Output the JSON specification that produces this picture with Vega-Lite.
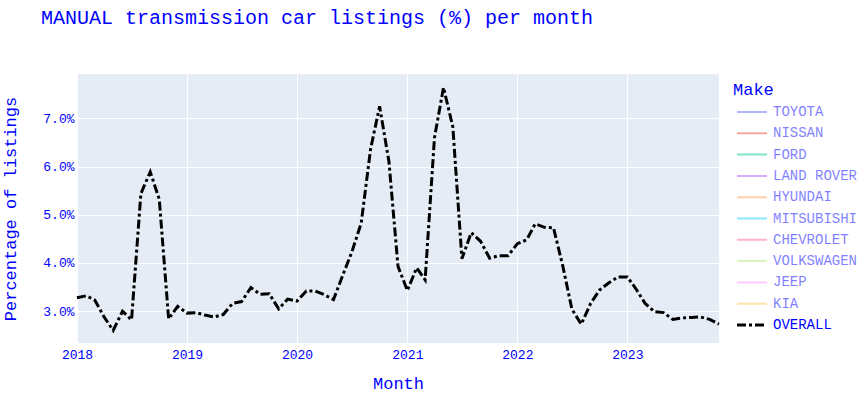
{
  "$schema": "https://vega.github.io/schema/vega-lite/v6.json",
  "width": 642,
  "height": 269,
  "autosize": {"type": "none"},
  "padding": {"left": 77, "top": 74, "right": 148, "bottom": 51},
  "background": "white",
  "config": {
    "font": "Liberation Mono",
    "view": {"fill": "#E5ECF6", "stroke": null},
    "axis": {"gridColor": "white", "gridWidth": 1, "domain": false, "ticks": false, "labelFont": "Liberation Mono", "labelColor": "blue", "labelFontSize": 13, "titleFont": "Liberation Mono", "titleColor": "blue", "titleFontSize": 17, "titleFontWeight": "normal"}
  },
  "title": {
    "text": "MANUAL transmission car listings (%) per month",
    "anchor": "start",
    "frame": "group",
    "dx": -36,
    "offset": 30,
    "baseline": "alphabetic",
    "font": "Liberation Mono",
    "fontSize": 20,
    "fontWeight": "normal",
    "color": "blue"
  },
  "data": {
    "values": [
      {"month": "2018-01-01T00:00:00", "make": "OVERALL", "pct": 3.28},
      {"month": "2018-02-01T00:00:00", "make": "OVERALL", "pct": 3.32},
      {"month": "2018-03-01T00:00:00", "make": "OVERALL", "pct": 3.23},
      {"month": "2018-04-01T00:00:00", "make": "OVERALL", "pct": 2.88},
      {"month": "2018-05-01T00:00:00", "make": "OVERALL", "pct": 2.6},
      {"month": "2018-06-01T00:00:00", "make": "OVERALL", "pct": 3.0},
      {"month": "2018-07-01T00:00:00", "make": "OVERALL", "pct": 2.82},
      {"month": "2018-08-01T00:00:00", "make": "OVERALL", "pct": 5.44},
      {"month": "2018-09-01T00:00:00", "make": "OVERALL", "pct": 5.89},
      {"month": "2018-10-01T00:00:00", "make": "OVERALL", "pct": 5.32},
      {"month": "2018-11-01T00:00:00", "make": "OVERALL", "pct": 2.84},
      {"month": "2018-12-01T00:00:00", "make": "OVERALL", "pct": 3.1},
      {"month": "2019-01-01T00:00:00", "make": "OVERALL", "pct": 2.96},
      {"month": "2019-02-01T00:00:00", "make": "OVERALL", "pct": 2.97},
      {"month": "2019-03-01T00:00:00", "make": "OVERALL", "pct": 2.92},
      {"month": "2019-04-01T00:00:00", "make": "OVERALL", "pct": 2.88},
      {"month": "2019-05-01T00:00:00", "make": "OVERALL", "pct": 2.93},
      {"month": "2019-06-01T00:00:00", "make": "OVERALL", "pct": 3.16},
      {"month": "2019-07-01T00:00:00", "make": "OVERALL", "pct": 3.2},
      {"month": "2019-08-01T00:00:00", "make": "OVERALL", "pct": 3.49},
      {"month": "2019-09-01T00:00:00", "make": "OVERALL", "pct": 3.35},
      {"month": "2019-10-01T00:00:00", "make": "OVERALL", "pct": 3.36},
      {"month": "2019-11-01T00:00:00", "make": "OVERALL", "pct": 3.05},
      {"month": "2019-12-01T00:00:00", "make": "OVERALL", "pct": 3.25},
      {"month": "2020-01-01T00:00:00", "make": "OVERALL", "pct": 3.21},
      {"month": "2020-02-01T00:00:00", "make": "OVERALL", "pct": 3.42},
      {"month": "2020-03-01T00:00:00", "make": "OVERALL", "pct": 3.42},
      {"month": "2020-04-01T00:00:00", "make": "OVERALL", "pct": 3.34},
      {"month": "2020-05-01T00:00:00", "make": "OVERALL", "pct": 3.24},
      {"month": "2020-06-01T00:00:00", "make": "OVERALL", "pct": 3.75},
      {"month": "2020-07-01T00:00:00", "make": "OVERALL", "pct": 4.23},
      {"month": "2020-08-01T00:00:00", "make": "OVERALL", "pct": 4.83},
      {"month": "2020-09-01T00:00:00", "make": "OVERALL", "pct": 6.36},
      {"month": "2020-10-01T00:00:00", "make": "OVERALL", "pct": 7.25},
      {"month": "2020-11-01T00:00:00", "make": "OVERALL", "pct": 6.1},
      {"month": "2020-12-01T00:00:00", "make": "OVERALL", "pct": 3.93},
      {"month": "2021-01-01T00:00:00", "make": "OVERALL", "pct": 3.43},
      {"month": "2021-02-01T00:00:00", "make": "OVERALL", "pct": 3.9},
      {"month": "2021-03-01T00:00:00", "make": "OVERALL", "pct": 3.65},
      {"month": "2021-04-01T00:00:00", "make": "OVERALL", "pct": 6.6},
      {"month": "2021-05-01T00:00:00", "make": "OVERALL", "pct": 7.64},
      {"month": "2021-06-01T00:00:00", "make": "OVERALL", "pct": 6.82},
      {"month": "2021-07-01T00:00:00", "make": "OVERALL", "pct": 4.09},
      {"month": "2021-08-01T00:00:00", "make": "OVERALL", "pct": 4.63},
      {"month": "2021-09-01T00:00:00", "make": "OVERALL", "pct": 4.45},
      {"month": "2021-10-01T00:00:00", "make": "OVERALL", "pct": 4.1},
      {"month": "2021-11-01T00:00:00", "make": "OVERALL", "pct": 4.15},
      {"month": "2021-12-01T00:00:00", "make": "OVERALL", "pct": 4.15},
      {"month": "2022-01-01T00:00:00", "make": "OVERALL", "pct": 4.4},
      {"month": "2022-02-01T00:00:00", "make": "OVERALL", "pct": 4.48},
      {"month": "2022-03-01T00:00:00", "make": "OVERALL", "pct": 4.81},
      {"month": "2022-04-01T00:00:00", "make": "OVERALL", "pct": 4.74},
      {"month": "2022-05-01T00:00:00", "make": "OVERALL", "pct": 4.73},
      {"month": "2022-06-01T00:00:00", "make": "OVERALL", "pct": 3.93},
      {"month": "2022-07-01T00:00:00", "make": "OVERALL", "pct": 3.04},
      {"month": "2022-08-01T00:00:00", "make": "OVERALL", "pct": 2.73},
      {"month": "2022-09-01T00:00:00", "make": "OVERALL", "pct": 3.16},
      {"month": "2022-10-01T00:00:00", "make": "OVERALL", "pct": 3.44},
      {"month": "2022-11-01T00:00:00", "make": "OVERALL", "pct": 3.59},
      {"month": "2022-12-01T00:00:00", "make": "OVERALL", "pct": 3.71},
      {"month": "2023-01-01T00:00:00", "make": "OVERALL", "pct": 3.71},
      {"month": "2023-02-01T00:00:00", "make": "OVERALL", "pct": 3.44},
      {"month": "2023-03-01T00:00:00", "make": "OVERALL", "pct": 3.16},
      {"month": "2023-04-01T00:00:00", "make": "OVERALL", "pct": 2.99},
      {"month": "2023-05-01T00:00:00", "make": "OVERALL", "pct": 2.97},
      {"month": "2023-06-01T00:00:00", "make": "OVERALL", "pct": 2.83},
      {"month": "2023-07-01T00:00:00", "make": "OVERALL", "pct": 2.86},
      {"month": "2023-08-01T00:00:00", "make": "OVERALL", "pct": 2.87},
      {"month": "2023-09-01T00:00:00", "make": "OVERALL", "pct": 2.88},
      {"month": "2023-10-01T00:00:00", "make": "OVERALL", "pct": 2.83},
      {"month": "2023-11-01T00:00:00", "make": "OVERALL", "pct": 2.73}
    ]
  },
  "mark": {"type": "line", "strokeWidth": 3, "strokeDash": [9, 3, 3, 3], "interpolate": "linear"},
  "encoding": {
    "x": {
      "field": "month",
      "type": "temporal",
      "scale": {"domain": [{"year": 2018, "month": 1, "date": 1}, {"year": 2023, "month": 11, "date": 1}], "nice": false},
      "axis": {"title": "Month", "format": "%Y", "tickCount": {"interval": "year", "step": 1}, "labelPadding": 5, "titleY": 45.5, "titleBaseline": "alphabetic", "labelFlush": false}
    },
    "y": {
      "field": "pct",
      "type": "quantitative",
      "scale": {"domain": [2.34, 7.92], "nice": false, "zero": false},
      "axis": {"title": "Percentage of listings", "values": [3, 4, 5, 6, 7], "labelExpr": "format(datum.value, '.1f') + '%'", "labelPadding": 3, "titleX": -61.5, "titleY": 134.5, "titleAngle": -90, "titleAlign": "center", "titleBaseline": "alphabetic"}
    },
    "color": {
      "field": "make",
      "type": "nominal",
      "scale": {
        "domain": ["TOYOTA", "NISSAN", "FORD", "LAND ROVER", "HYUNDAI", "MITSUBISHI", "CHEVROLET", "VOLKSWAGEN", "JEEP", "KIA", "OVERALL"],
        "range": ["#636EFA", "#EF553B", "#00CC96", "#AB63FA", "#FFA15A", "#19D3F3", "#FF6692", "#B6E880", "#FF97FF", "#FECB52", "black"]
      },
      "legend": {
        "title": "Make",
        "orient": "none",
        "legendX": 656,
        "legendY": 8,
        "padding": 0,
        "titleFont": "Liberation Mono",
        "titleFontSize": 17,
        "titleFontWeight": "normal",
        "titleColor": "blue",
        "titlePadding": 6,
        "labelFont": "Liberation Mono",
        "labelFontSize": 14,
        "labelColor": "blue",
        "labelOffset": 14,
        "symbolType": "stroke",
        "symbolSize": 900,
        "symbolStrokeWidth": 2,
        "rowPadding": 7.3,
        "encode": {
          "title": {"update": {"dx": {"value": -12}}},
          "symbols": {"update": {
            "opacity": {"signal": "datum.value === 'OVERALL' ? 1 : 0.5"},
            "strokeWidth": {"signal": "datum.value === 'OVERALL' ? 3 : 2"},
            "strokeDash": {"signal": "datum.value === 'OVERALL' ? [9, 3, 3, 3] : [1, 0]"}
          }},
          "labels": {"update": {"opacity": {"signal": "datum.value === 'OVERALL' ? 1 : 0.5"}}}
        }
      }
    }
  }
}
